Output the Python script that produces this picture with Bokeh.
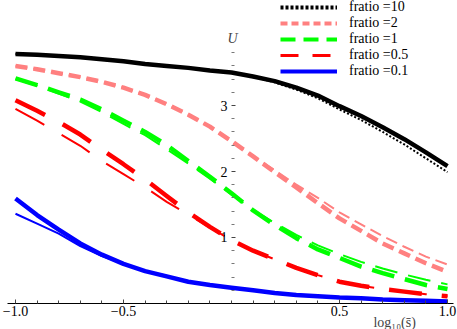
from bokeh.plotting import figure
from bokeh.models import LinearAxis, FixedTicker, Range1d, Label, Legend, LegendItem
from bokeh.embed import file_html
from bokeh.resources import INLINE

# ---------------- data ----------------
log_s = [-1.0, -0.9, -0.8, -0.7, -0.6, -0.5, -0.4, -0.3, -0.2, -0.1, 0.0,
         0.1, 0.2, 0.3, 0.4, 0.5, 0.6, 0.7, 0.8, 0.9, 1.0]

u_r10_a = [3.78, 3.77, 3.75, 3.73, 3.70, 3.67, 3.63, 3.60, 3.57, 3.53, 3.50,
           3.44, 3.37, 3.27, 3.15, 2.99, 2.84, 2.67, 2.49, 2.29, 2.08]
u_r10_b = [3.78, 3.77, 3.75, 3.73, 3.70, 3.67, 3.63, 3.60, 3.57, 3.53, 3.50,
           3.44, 3.35, 3.24, 3.11, 2.94, 2.78, 2.60, 2.41, 2.20, 1.99]

u_r2_a = [3.60, 3.55, 3.49, 3.43, 3.36, 3.27, 3.16, 3.02, 2.86, 2.68, 2.46,
          2.23, 1.99, 1.76, 1.52, 1.29, 1.10, 0.91, 0.76, 0.61, 0.48]
u_r2_b = [3.60, 3.55, 3.49, 3.43, 3.36, 3.27, 3.16, 3.02, 2.86, 2.68, 2.46,
          2.23, 2.02, 1.80, 1.60, 1.38, 1.20, 1.02, 0.86, 0.71, 0.59]

u_r1_a = [3.41, 3.31, 3.20, 3.09, 2.94, 2.77, 2.60, 2.40, 2.16, 1.92, 1.67,
          1.41, 1.19, 0.99, 0.82, 0.69, 0.56, 0.46, 0.37, 0.28, 0.22]
u_r1_b = [3.40, 3.30, 3.18, 3.06, 2.90, 2.72, 2.55, 2.34, 2.12, 1.89, 1.65,
          1.42, 1.22, 1.04, 0.88, 0.75, 0.63, 0.53, 0.44, 0.36, 0.29]

u_r05_a = [3.08, 2.92, 2.75, 2.56, 2.33, 2.11, 1.88, 1.63, 1.38, 1.16, 0.96,
           0.80, 0.67, 0.54, 0.43, 0.33, 0.27, 0.22, 0.18, 0.14, 0.11]
u_r05_b = [2.95, 2.77, 2.58, 2.39, 2.16, 1.96, 1.76, 1.54, 1.35, 1.15, 0.96,
           0.80, 0.67, 0.54, 0.43, 0.33, 0.27, 0.22, 0.18, 0.14, 0.11]

u_r01_a = [1.59, 1.34, 1.12, 0.91, 0.74, 0.60, 0.49, 0.41, 0.33, 0.28, 0.24,
           0.20, 0.16, 0.13, 0.11, 0.09, 0.08, 0.06, 0.05, 0.04, 0.03]
u_r01_b = [1.36, 1.21, 1.06, 0.87, 0.72, 0.60, 0.49, 0.41, 0.33, 0.28, 0.24,
           0.20, 0.16, 0.13, 0.11, 0.09, 0.08, 0.06, 0.05, 0.04, 0.03]

legend_labels = ["fratio =10", "fratio =2", "fratio =1", "fratio =0.5", "fratio =0.1"]

x_major = [-1.0, -0.5, 0.5, 1.0]
x_major_text = ["\u22121.0", "\u22120.5", "0.5", "1.0"]
x_minor = [-0.9, -0.8, -0.7, -0.6, -0.4, -0.3, -0.2, -0.1, 0.0,
           0.1, 0.2, 0.3, 0.4, 0.6, 0.7, 0.8, 0.9]
y_major = [1, 2, 3]
y_minor = [0.2, 0.4, 0.6, 0.8, 1.2, 1.4, 1.6, 1.8, 2.2, 2.4, 2.6, 2.8,
           3.2, 3.4, 3.6, 3.8]

NAN = float("nan")

# ---------------- figure ----------------
SERIF = "Liberation Serif"
FS = "14px"

p = figure(width=457, height=329,
           x_range=Range1d(-1.0694, 1.0463), y_range=Range1d(-0.394, 4.591),
           x_axis_type=None, y_axis_type=None,
           output_backend="svg", toolbar_location=None,
           min_border_left=0, min_border_right=0,
           min_border_top=0, min_border_bottom=0)
p.outline_line_color = None
p.background_fill_color = "white"
p.border_fill_color = "white"

xaxis = LinearAxis(ticker=FixedTicker(ticks=x_major, minor_ticks=x_minor),
                   fixed_location=0, bounds=(-1.037, 1.028))
xaxis.major_label_overrides = {k: v for k, v in zip(x_major, x_major_text)}
xaxis.axis_line_color = "black"
xaxis.axis_line_width = 1
xaxis.major_tick_in = 4
xaxis.major_tick_out = 0
xaxis.minor_tick_in = 3
xaxis.minor_tick_out = 0
xaxis.major_tick_line_color = "#444444"
xaxis.minor_tick_line_color = "#444444"
xaxis.major_label_standoff = 3
xaxis.major_label_text_font = SERIF
xaxis.major_label_text_font_size = FS
xaxis.major_label_text_color = "black"
p.add_layout(xaxis, "below")

yaxis = LinearAxis(ticker=FixedTicker(ticks=y_major, minor_ticks=y_minor),
                   fixed_location=0)
yaxis.axis_line_color = None
yaxis.major_tick_in = 4
yaxis.major_tick_out = 0
yaxis.minor_tick_in = 3
yaxis.minor_tick_out = 0
yaxis.major_tick_line_color = "#444444"
yaxis.minor_tick_line_color = "#777777"
yaxis.major_label_standoff = 4
yaxis.major_label_text_font = SERIF
yaxis.major_label_text_font_size = FS
yaxis.major_label_text_color = "black"
p.add_layout(yaxis, "left")

# ---------------- curves ----------------
THICK = 4.5
THIN = 2

p.line(log_s, u_r01_a, line_color="#0000FF", line_width=THICK)
p.line(log_s, u_r01_b, line_color="#0000FF", line_width=THIN)

p.line(log_s, u_r05_a, line_color="#FF0000", line_width=THICK, line_dash="33 20")
p.line(log_s, u_r05_b, line_color="#FF0000", line_width=THIN, line_dash="33 20")

p.line(log_s, u_r1_a, line_color="#00FF00", line_width=THICK, line_dash="23 11")
p.line(log_s, u_r1_b, line_color="#00FF00", line_width=THIN, line_dash="23 11")

p.line(log_s, u_r2_a, line_color="#FF8080", line_width=THICK, line_dash="12 6")
p.line(log_s, u_r2_b, line_color="#FF8080", line_width=THIN, line_dash="12 6")

p.line(log_s, u_r10_a, line_color="black", line_width=THICK)
p.line(log_s, u_r10_b, line_color="black", line_width=THIN, line_dash="2 2")

# ---------------- legend (legend-only sample lines, no visible data) ----------------
leg_r = [
    p.line([NAN], [NAN], line_color="black", line_width=4, line_dash="3 2"),
    p.line([NAN], [NAN], line_color="#FF8080", line_width=4, line_dash="7 4"),
    p.line([NAN], [NAN], line_color="#00FF00", line_width=4, line_dash="15 8"),
    p.line([NAN], [NAN], line_color="#FF0000", line_width=3, line_dash="18 14"),
    p.line([NAN], [NAN], line_color="#0000FF", line_width=4),
]
legend = Legend(items=[LegendItem(label=t, renderers=[r]) for t, r in zip(legend_labels, leg_r)],
                location=(280, 250.5))
legend.border_line_color = None
legend.background_fill_alpha = 0
legend.padding = 0
legend.margin = 0
legend.spacing = 0
legend.glyph_height = 16
legend.label_height = 16
legend.glyph_width = 57
legend.label_standoff = 12
legend.label_text_font = SERIF
legend.label_text_font_size = FS
legend.label_text_color = "black"
p.add_layout(legend)

# ---------------- axis titles ----------------
p.add_layout(Label(x=0.005, y=4.02, text="U", text_font=SERIF, text_font_style="italic",
                   text_font_size=FS, text_align="center", text_baseline="middle"))
p.add_layout(Label(x=0.657, y=-0.288, text="log\u2081\u2080(s\u0304)", text_font=SERIF,
                   text_font_size=FS, text_align="left", text_baseline="middle"))

open("out.html", "w").write(file_html(p, INLINE))
